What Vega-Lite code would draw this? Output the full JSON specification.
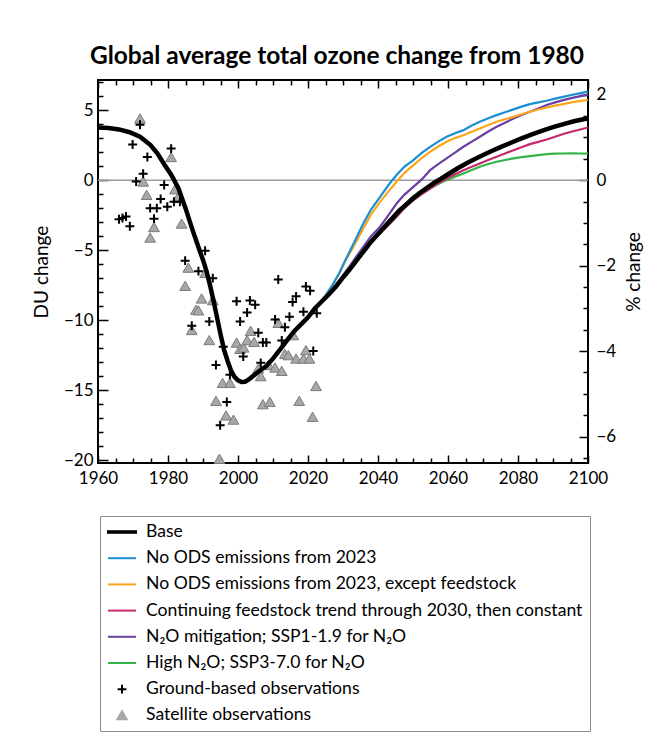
{
  "$schema": "https://vega.github.io/schema/vega-lite/v6.json",
  "width": 490,
  "height": 383,
  "autosize": {"type": "none"},
  "padding": {"left": 98, "top": 80, "right": 69, "bottom": 286},
  "background": "white",
  "config": {
    "font": "Lato",
    "view": {"stroke": "black", "strokeWidth": 2},
    "axis": {"labelFont": "Lato", "titleFont": "Lato", "labelColor": "black", "titleColor": "black", "tickColor": "black", "tickWidth": 1.5, "domain": false, "grid": false, "labelFontSize": 17, "titleFontSize": 19, "titleFontWeight": "normal", "labelOverlap": false}
  },
  "title": {"text": "Global average total ozone change from 1980", "font": "Lato", "fontSize": 24.5, "fontWeight": "bold", "color": "black", "anchor": "middle", "frame": "group", "dx": -6, "dy": 31, "offset": 16, "baseline": "alphabetic"},
  "datasets": {
    "scen": [
      {"series": "Base", "year": 1960, "du": 3.75}, {"series": "Base", "year": 1963, "du": 3.72}, {"series": "Base", "year": 1966, "du": 3.62}, {"series": "Base", "year": 1969, "du": 3.42}, {"series": "Base", "year": 1972, "du": 3.1}, {"series": "Base", "year": 1975, "du": 2.5}, {"series": "Base", "year": 1977, "du": 1.9}, {"series": "Base", "year": 1979, "du": 1.1}, {"series": "Base", "year": 1981, "du": 0.35}, {"series": "Base", "year": 1983, "du": -0.6}, {"series": "Base", "year": 1985, "du": -2.0}, {"series": "Base", "year": 1987, "du": -3.55}, {"series": "Base", "year": 1989, "du": -5.0}, {"series": "Base", "year": 1990, "du": -5.7}, {"series": "Base", "year": 1991, "du": -6.5}, {"series": "Base", "year": 1992, "du": -7.5}, {"series": "Base", "year": 1993, "du": -8.6}, {"series": "Base", "year": 1994, "du": -9.8}, {"series": "Base", "year": 1995, "du": -11.0}, {"series": "Base", "year": 1996, "du": -12.1}, {"series": "Base", "year": 1997, "du": -12.9}, {"series": "Base", "year": 1998, "du": -13.6}, {"series": "Base", "year": 1999, "du": -14.05}, {"series": "Base", "year": 2000, "du": -14.3}, {"series": "Base", "year": 2001, "du": -14.42}, {"series": "Base", "year": 2002, "du": -14.4}, {"series": "Base", "year": 2003, "du": -14.25}, {"series": "Base", "year": 2004, "du": -14.05}, {"series": "Base", "year": 2005, "du": -13.85}, {"series": "Base", "year": 2006, "du": -13.65}, {"series": "Base", "year": 2008, "du": -13.3}, {"series": "Base", "year": 2010, "du": -12.75}, {"series": "Base", "year": 2012, "du": -12.1}, {"series": "Base", "year": 2014, "du": -11.45}, {"series": "Base", "year": 2016, "du": -10.8}, {"series": "Base", "year": 2018, "du": -10.3}, {"series": "Base", "year": 2020, "du": -9.8}, {"series": "Base", "year": 2022, "du": -9.15}, {"series": "Base", "year": 2024, "du": -8.65}, {"series": "Base", "year": 2026, "du": -8.15}, {"series": "Base", "year": 2028, "du": -7.6}, {"series": "Base", "year": 2030, "du": -6.95}, {"series": "Base", "year": 2032, "du": -6.35}, {"series": "Base", "year": 2034, "du": -5.7}, {"series": "Base", "year": 2036, "du": -5.05}, {"series": "Base", "year": 2038, "du": -4.4}, {"series": "Base", "year": 2040, "du": -3.85}, {"series": "Base", "year": 2042, "du": -3.3}, {"series": "Base", "year": 2044, "du": -2.75}, {"series": "Base", "year": 2046, "du": -2.2}, {"series": "Base", "year": 2048, "du": -1.75}, {"series": "Base", "year": 2050, "du": -1.3}, {"series": "Base", "year": 2052, "du": -0.9}, {"series": "Base", "year": 2054, "du": -0.55}, {"series": "Base", "year": 2056, "du": -0.2}, {"series": "Base", "year": 2058, "du": 0.1}, {"series": "Base", "year": 2060, "du": 0.42}, {"series": "Base", "year": 2063, "du": 0.88}, {"series": "Base", "year": 2066, "du": 1.3}, {"series": "Base", "year": 2069, "du": 1.67}, {"series": "Base", "year": 2072, "du": 2.03}, {"series": "Base", "year": 2075, "du": 2.36}, {"series": "Base", "year": 2078, "du": 2.67}, {"series": "Base", "year": 2081, "du": 2.98}, {"series": "Base", "year": 2084, "du": 3.26}, {"series": "Base", "year": 2087, "du": 3.53}, {"series": "Base", "year": 2090, "du": 3.78}, {"series": "Base", "year": 2093, "du": 4.0}, {"series": "Base", "year": 2096, "du": 4.2}, {"series": "Base", "year": 2100, "du": 4.42},

      {"series": "High N₂O; SSP3-7.0 for N₂O", "year": 2023, "du": -8.9}, {"series": "High N₂O; SSP3-7.0 for N₂O", "year": 2026, "du": -8.15}, {"series": "High N₂O; SSP3-7.0 for N₂O", "year": 2030, "du": -6.95}, {"series": "High N₂O; SSP3-7.0 for N₂O", "year": 2034, "du": -5.75}, {"series": "High N₂O; SSP3-7.0 for N₂O", "year": 2038, "du": -4.5}, {"series": "High N₂O; SSP3-7.0 for N₂O", "year": 2040.6, "du": -3.8}, {"series": "High N₂O; SSP3-7.0 for N₂O", "year": 2043, "du": -3.2}, {"series": "High N₂O; SSP3-7.0 for N₂O", "year": 2045.3, "du": -2.62}, {"series": "High N₂O; SSP3-7.0 for N₂O", "year": 2047.5, "du": -2.0}, {"series": "High N₂O; SSP3-7.0 for N₂O", "year": 2050.1, "du": -1.43}, {"series": "High N₂O; SSP3-7.0 for N₂O", "year": 2052.5, "du": -0.98}, {"series": "High N₂O; SSP3-7.0 for N₂O", "year": 2054.9, "du": -0.6}, {"series": "High N₂O; SSP3-7.0 for N₂O", "year": 2057.2, "du": -0.28}, {"series": "High N₂O; SSP3-7.0 for N₂O", "year": 2059.6, "du": 0.0}, {"series": "High N₂O; SSP3-7.0 for N₂O", "year": 2062, "du": 0.25}, {"series": "High N₂O; SSP3-7.0 for N₂O", "year": 2064.4, "du": 0.48}, {"series": "High N₂O; SSP3-7.0 for N₂O", "year": 2066.8, "du": 0.72}, {"series": "High N₂O; SSP3-7.0 for N₂O", "year": 2069.1, "du": 0.95}, {"series": "High N₂O; SSP3-7.0 for N₂O", "year": 2071.5, "du": 1.15}, {"series": "High N₂O; SSP3-7.0 for N₂O", "year": 2073.9, "du": 1.31}, {"series": "High N₂O; SSP3-7.0 for N₂O", "year": 2076.3, "du": 1.44}, {"series": "High N₂O; SSP3-7.0 for N₂O", "year": 2078.7, "du": 1.55}, {"series": "High N₂O; SSP3-7.0 for N₂O", "year": 2081, "du": 1.64}, {"series": "High N₂O; SSP3-7.0 for N₂O", "year": 2083.4, "du": 1.71}, {"series": "High N₂O; SSP3-7.0 for N₂O", "year": 2085.8, "du": 1.78}, {"series": "High N₂O; SSP3-7.0 for N₂O", "year": 2088.2, "du": 1.86}, {"series": "High N₂O; SSP3-7.0 for N₂O", "year": 2090.6, "du": 1.89}, {"series": "High N₂O; SSP3-7.0 for N₂O", "year": 2092.9, "du": 1.9}, {"series": "High N₂O; SSP3-7.0 for N₂O", "year": 2095.2, "du": 1.91}, {"series": "High N₂O; SSP3-7.0 for N₂O", "year": 2097.5, "du": 1.9}, {"series": "High N₂O; SSP3-7.0 for N₂O", "year": 2100, "du": 1.89},

      {"series": "Continuing feedstock trend through 2030, then constant", "year": 2023, "du": -8.9}, {"series": "Continuing feedstock trend through 2030, then constant", "year": 2026, "du": -8.15}, {"series": "Continuing feedstock trend through 2030, then constant", "year": 2030, "du": -6.95}, {"series": "Continuing feedstock trend through 2030, then constant", "year": 2034, "du": -5.75}, {"series": "Continuing feedstock trend through 2030, then constant", "year": 2038, "du": -4.5}, {"series": "Continuing feedstock trend through 2030, then constant", "year": 2040.6, "du": -3.8}, {"series": "Continuing feedstock trend through 2030, then constant", "year": 2043, "du": -3.2}, {"series": "Continuing feedstock trend through 2030, then constant", "year": 2045.3, "du": -2.62}, {"series": "Continuing feedstock trend through 2030, then constant", "year": 2047.5, "du": -2.0}, {"series": "Continuing feedstock trend through 2030, then constant", "year": 2050.1, "du": -1.43}, {"series": "Continuing feedstock trend through 2030, then constant", "year": 2052.5, "du": -1.0}, {"series": "Continuing feedstock trend through 2030, then constant", "year": 2054.9, "du": -0.6}, {"series": "Continuing feedstock trend through 2030, then constant", "year": 2057.2, "du": -0.22}, {"series": "Continuing feedstock trend through 2030, then constant", "year": 2059.6, "du": 0.12}, {"series": "Continuing feedstock trend through 2030, then constant", "year": 2062, "du": 0.42}, {"series": "Continuing feedstock trend through 2030, then constant", "year": 2064.4, "du": 0.71}, {"series": "Continuing feedstock trend through 2030, then constant", "year": 2066.8, "du": 0.95}, {"series": "Continuing feedstock trend through 2030, then constant", "year": 2069.1, "du": 1.19}, {"series": "Continuing feedstock trend through 2030, then constant", "year": 2071.5, "du": 1.43}, {"series": "Continuing feedstock trend through 2030, then constant", "year": 2073.9, "du": 1.67}, {"series": "Continuing feedstock trend through 2030, then constant", "year": 2076.3, "du": 1.9}, {"series": "Continuing feedstock trend through 2030, then constant", "year": 2078.7, "du": 2.14}, {"series": "Continuing feedstock trend through 2030, then constant", "year": 2081, "du": 2.35}, {"series": "Continuing feedstock trend through 2030, then constant", "year": 2083.4, "du": 2.57}, {"series": "Continuing feedstock trend through 2030, then constant", "year": 2085.8, "du": 2.73}, {"series": "Continuing feedstock trend through 2030, then constant", "year": 2088.2, "du": 2.9}, {"series": "Continuing feedstock trend through 2030, then constant", "year": 2090.6, "du": 3.1}, {"series": "Continuing feedstock trend through 2030, then constant", "year": 2092.9, "du": 3.29}, {"series": "Continuing feedstock trend through 2030, then constant", "year": 2095.2, "du": 3.45}, {"series": "Continuing feedstock trend through 2030, then constant", "year": 2097.5, "du": 3.6}, {"series": "Continuing feedstock trend through 2030, then constant", "year": 2100, "du": 3.76},

      {"series": "N₂O mitigation; SSP1-1.9 for N₂O", "year": 2023, "du": -8.9}, {"series": "N₂O mitigation; SSP1-1.9 for N₂O", "year": 2026, "du": -8.1}, {"series": "N₂O mitigation; SSP1-1.9 for N₂O", "year": 2029, "du": -7.15}, {"series": "N₂O mitigation; SSP1-1.9 for N₂O", "year": 2032, "du": -6.1}, {"series": "N₂O mitigation; SSP1-1.9 for N₂O", "year": 2034, "du": -5.4}, {"series": "N₂O mitigation; SSP1-1.9 for N₂O", "year": 2035.8, "du": -4.76}, {"series": "N₂O mitigation; SSP1-1.9 for N₂O", "year": 2038, "du": -4.0}, {"series": "N₂O mitigation; SSP1-1.9 for N₂O", "year": 2040.6, "du": -3.33}, {"series": "N₂O mitigation; SSP1-1.9 for N₂O", "year": 2043, "du": -2.5}, {"series": "N₂O mitigation; SSP1-1.9 for N₂O", "year": 2045.3, "du": -1.67}, {"series": "N₂O mitigation; SSP1-1.9 for N₂O", "year": 2047.5, "du": -1.05}, {"series": "N₂O mitigation; SSP1-1.9 for N₂O", "year": 2050.1, "du": -0.48}, {"series": "N₂O mitigation; SSP1-1.9 for N₂O", "year": 2052.5, "du": 0.05}, {"series": "N₂O mitigation; SSP1-1.9 for N₂O", "year": 2054.9, "du": 0.71}, {"series": "N₂O mitigation; SSP1-1.9 for N₂O", "year": 2057.2, "du": 1.15}, {"series": "N₂O mitigation; SSP1-1.9 for N₂O", "year": 2059.6, "du": 1.55}, {"series": "N₂O mitigation; SSP1-1.9 for N₂O", "year": 2062, "du": 1.97}, {"series": "N₂O mitigation; SSP1-1.9 for N₂O", "year": 2064.4, "du": 2.38}, {"series": "N₂O mitigation; SSP1-1.9 for N₂O", "year": 2066.8, "du": 2.75}, {"series": "N₂O mitigation; SSP1-1.9 for N₂O", "year": 2069.1, "du": 3.1}, {"series": "N₂O mitigation; SSP1-1.9 for N₂O", "year": 2071.5, "du": 3.47}, {"series": "N₂O mitigation; SSP1-1.9 for N₂O", "year": 2073.9, "du": 3.81}, {"series": "N₂O mitigation; SSP1-1.9 for N₂O", "year": 2076.3, "du": 4.1}, {"series": "N₂O mitigation; SSP1-1.9 for N₂O", "year": 2078.7, "du": 4.4}, {"series": "N₂O mitigation; SSP1-1.9 for N₂O", "year": 2081, "du": 4.65}, {"series": "N₂O mitigation; SSP1-1.9 for N₂O", "year": 2083.4, "du": 4.88}, {"series": "N₂O mitigation; SSP1-1.9 for N₂O", "year": 2085.8, "du": 5.12}, {"series": "N₂O mitigation; SSP1-1.9 for N₂O", "year": 2088.2, "du": 5.36}, {"series": "N₂O mitigation; SSP1-1.9 for N₂O", "year": 2090.6, "du": 5.55}, {"series": "N₂O mitigation; SSP1-1.9 for N₂O", "year": 2092.9, "du": 5.71}, {"series": "N₂O mitigation; SSP1-1.9 for N₂O", "year": 2095.2, "du": 5.86}, {"series": "N₂O mitigation; SSP1-1.9 for N₂O", "year": 2097.5, "du": 5.98}, {"series": "N₂O mitigation; SSP1-1.9 for N₂O", "year": 2100, "du": 6.1},

      {"series": "No ODS emissions from 2023, except feedstock", "year": 2023, "du": -8.9}, {"series": "No ODS emissions from 2023, except feedstock", "year": 2025, "du": -8.25}, {"series": "No ODS emissions from 2023, except feedstock", "year": 2027, "du": -7.5}, {"series": "No ODS emissions from 2023, except feedstock", "year": 2029, "du": -6.65}, {"series": "No ODS emissions from 2023, except feedstock", "year": 2030.6, "du": -5.8}, {"series": "No ODS emissions from 2023, except feedstock", "year": 2033, "du": -4.75}, {"series": "No ODS emissions from 2023, except feedstock", "year": 2035.8, "du": -3.45}, {"series": "No ODS emissions from 2023, except feedstock", "year": 2038, "du": -2.45}, {"series": "No ODS emissions from 2023, except feedstock", "year": 2040.6, "du": -1.55}, {"series": "No ODS emissions from 2023, except feedstock", "year": 2043, "du": -0.8}, {"series": "No ODS emissions from 2023, except feedstock", "year": 2045.3, "du": -0.12}, {"series": "No ODS emissions from 2023, except feedstock", "year": 2047.5, "du": 0.5}, {"series": "No ODS emissions from 2023, except feedstock", "year": 2050.1, "du": 1.07}, {"series": "No ODS emissions from 2023, except feedstock", "year": 2052.5, "du": 1.58}, {"series": "No ODS emissions from 2023, except feedstock", "year": 2054.9, "du": 2.02}, {"series": "No ODS emissions from 2023, except feedstock", "year": 2057.2, "du": 2.4}, {"series": "No ODS emissions from 2023, except feedstock", "year": 2059.6, "du": 2.74}, {"series": "No ODS emissions from 2023, except feedstock", "year": 2062, "du": 3.0}, {"series": "No ODS emissions from 2023, except feedstock", "year": 2064.4, "du": 3.21}, {"series": "No ODS emissions from 2023, except feedstock", "year": 2066.8, "du": 3.45}, {"series": "No ODS emissions from 2023, except feedstock", "year": 2069.1, "du": 3.69}, {"series": "No ODS emissions from 2023, except feedstock", "year": 2071.5, "du": 3.94}, {"series": "No ODS emissions from 2023, except feedstock", "year": 2073.9, "du": 4.17}, {"series": "No ODS emissions from 2023, except feedstock", "year": 2076.3, "du": 4.35}, {"series": "No ODS emissions from 2023, except feedstock", "year": 2078.7, "du": 4.52}, {"series": "No ODS emissions from 2023, except feedstock", "year": 2081, "du": 4.7}, {"series": "No ODS emissions from 2023, except feedstock", "year": 2083.4, "du": 4.88}, {"series": "No ODS emissions from 2023, except feedstock", "year": 2085.8, "du": 5.04}, {"series": "No ODS emissions from 2023, except feedstock", "year": 2088.2, "du": 5.19}, {"series": "No ODS emissions from 2023, except feedstock", "year": 2090.6, "du": 5.32}, {"series": "No ODS emissions from 2023, except feedstock", "year": 2092.9, "du": 5.43}, {"series": "No ODS emissions from 2023, except feedstock", "year": 2095.2, "du": 5.55}, {"series": "No ODS emissions from 2023, except feedstock", "year": 2097.5, "du": 5.64}, {"series": "No ODS emissions from 2023, except feedstock", "year": 2100, "du": 5.72},

      {"series": "No ODS emissions from 2023", "year": 2023, "du": -8.9}, {"series": "No ODS emissions from 2023", "year": 2025, "du": -8.25}, {"series": "No ODS emissions from 2023", "year": 2027, "du": -7.5}, {"series": "No ODS emissions from 2023", "year": 2029, "du": -6.6}, {"series": "No ODS emissions from 2023", "year": 2030.6, "du": -5.75}, {"series": "No ODS emissions from 2023", "year": 2033, "du": -4.55}, {"series": "No ODS emissions from 2023", "year": 2035.8, "du": -3.1}, {"series": "No ODS emissions from 2023", "year": 2038, "du": -2.1}, {"series": "No ODS emissions from 2023", "year": 2040.6, "du": -1.19}, {"series": "No ODS emissions from 2023", "year": 2043, "du": -0.35}, {"series": "No ODS emissions from 2023", "year": 2045.3, "du": 0.36}, {"series": "No ODS emissions from 2023", "year": 2047.5, "du": 0.95}, {"series": "No ODS emissions from 2023", "year": 2050.1, "du": 1.43}, {"series": "No ODS emissions from 2023", "year": 2052.5, "du": 1.95}, {"series": "No ODS emissions from 2023", "year": 2054.9, "du": 2.38}, {"series": "No ODS emissions from 2023", "year": 2057.2, "du": 2.75}, {"series": "No ODS emissions from 2023", "year": 2059.6, "du": 3.1}, {"series": "No ODS emissions from 2023", "year": 2062, "du": 3.35}, {"series": "No ODS emissions from 2023", "year": 2064.4, "du": 3.57}, {"series": "No ODS emissions from 2023", "year": 2066.8, "du": 3.9}, {"series": "No ODS emissions from 2023", "year": 2069.1, "du": 4.17}, {"series": "No ODS emissions from 2023", "year": 2071.5, "du": 4.42}, {"series": "No ODS emissions from 2023", "year": 2073.9, "du": 4.64}, {"series": "No ODS emissions from 2023", "year": 2076.3, "du": 4.85}, {"series": "No ODS emissions from 2023", "year": 2078.7, "du": 5.05}, {"series": "No ODS emissions from 2023", "year": 2081, "du": 5.25}, {"series": "No ODS emissions from 2023", "year": 2083.4, "du": 5.43}, {"series": "No ODS emissions from 2023", "year": 2085.8, "du": 5.55}, {"series": "No ODS emissions from 2023", "year": 2088.2, "du": 5.67}, {"series": "No ODS emissions from 2023", "year": 2090.6, "du": 5.82}, {"series": "No ODS emissions from 2023", "year": 2092.9, "du": 5.95}, {"series": "No ODS emissions from 2023", "year": 2095.2, "du": 6.08}, {"series": "No ODS emissions from 2023", "year": 2097.5, "du": 6.2}, {"series": "No ODS emissions from 2023", "year": 2100, "du": 6.32}
    ],
    "obs": [
      {"series": "Satellite observations", "year": 1972.0, "du": 4.4}, {"series": "Satellite observations", "year": 1972.9, "du": -0.1}, {"series": "Satellite observations", "year": 1973.9, "du": -1.05}, {"series": "Satellite observations", "year": 1974.9, "du": -4.1}, {"series": "Satellite observations", "year": 1976.0, "du": -3.35}, {"series": "Satellite observations", "year": 1980.9, "du": 1.65}, {"series": "Satellite observations", "year": 1982.0, "du": -0.65}, {"series": "Satellite observations", "year": 1982.9, "du": -1.2}, {"series": "Satellite observations", "year": 1983.9, "du": -3.1}, {"series": "Satellite observations", "year": 1984.9, "du": -7.55}, {"series": "Satellite observations", "year": 1985.8, "du": -6.25}, {"series": "Satellite observations", "year": 1986.8, "du": -10.7}, {"series": "Satellite observations", "year": 1988.0, "du": -9.25}, {"series": "Satellite observations", "year": 1988.7, "du": -9.3}, {"series": "Satellite observations", "year": 1989.6, "du": -8.45}, {"series": "Satellite observations", "year": 1990.6, "du": -6.62}, {"series": "Satellite observations", "year": 1991.8, "du": -11.42}, {"series": "Satellite observations", "year": 1992.8, "du": -8.57}, {"series": "Satellite observations", "year": 1993.7, "du": -15.76}, {"series": "Satellite observations", "year": 1994.7, "du": -19.9}, {"series": "Satellite observations", "year": 1995.6, "du": -14.48}, {"series": "Satellite observations", "year": 1996.6, "du": -16.8}, {"series": "Satellite observations", "year": 1997.7, "du": -14.48}, {"series": "Satellite observations", "year": 1998.7, "du": -17.1}, {"series": "Satellite observations", "year": 1999.6, "du": -11.6}, {"series": "Satellite observations", "year": 2000.6, "du": -12.05}, {"series": "Satellite observations", "year": 2001.6, "du": -11.95}, {"series": "Satellite observations", "year": 2002.6, "du": -11.42}, {"series": "Satellite observations", "year": 2003.6, "du": -10.76}, {"series": "Satellite observations", "year": 2004.6, "du": -11.55}, {"series": "Satellite observations", "year": 2005.8, "du": -13.45}, {"series": "Satellite observations", "year": 2006.5, "du": -14.0}, {"series": "Satellite observations", "year": 2007.1, "du": -16.0}, {"series": "Satellite observations", "year": 2008.7, "du": -13.2}, {"series": "Satellite observations", "year": 2009.1, "du": -15.83}, {"series": "Satellite observations", "year": 2010.6, "du": -13.38}, {"series": "Satellite observations", "year": 2011.5, "du": -10.19}, {"series": "Satellite observations", "year": 2012.5, "du": -13.62}, {"series": "Satellite observations", "year": 2013.4, "du": -12.4}, {"series": "Satellite observations", "year": 2014.4, "du": -12.5}, {"series": "Satellite observations", "year": 2015.8, "du": -11.07}, {"series": "Satellite observations", "year": 2016.6, "du": -12.74}, {"series": "Satellite observations", "year": 2017.5, "du": -15.76}, {"series": "Satellite observations", "year": 2018.7, "du": -12.74}, {"series": "Satellite observations", "year": 2019.4, "du": -12.14}, {"series": "Satellite observations", "year": 2020.4, "du": -12.74}, {"series": "Satellite observations", "year": 2021.3, "du": -16.9}, {"series": "Satellite observations", "year": 2022.3, "du": -14.7},
      {"series": "Ground-based observations", "year": 1966.0, "du": -2.8}, {"series": "Ground-based observations", "year": 1967.0, "du": -2.7}, {"series": "Ground-based observations", "year": 1968.0, "du": -2.6}, {"series": "Ground-based observations", "year": 1969.1, "du": -3.3}, {"series": "Ground-based observations", "year": 1969.9, "du": 2.55}, {"series": "Ground-based observations", "year": 1970.9, "du": -0.1}, {"series": "Ground-based observations", "year": 1972.0, "du": 3.95}, {"series": "Ground-based observations", "year": 1972.9, "du": 0.45}, {"series": "Ground-based observations", "year": 1974.1, "du": 1.65}, {"series": "Ground-based observations", "year": 1974.9, "du": -2.0}, {"series": "Ground-based observations", "year": 1976.0, "du": -2.75}, {"series": "Ground-based observations", "year": 1976.8, "du": -2.0}, {"series": "Ground-based observations", "year": 1977.9, "du": -1.35}, {"series": "Ground-based observations", "year": 1978.9, "du": -0.35}, {"series": "Ground-based observations", "year": 1979.8, "du": -1.9}, {"series": "Ground-based observations", "year": 1980.9, "du": 2.25}, {"series": "Ground-based observations", "year": 1981.7, "du": -1.55}, {"series": "Ground-based observations", "year": 1983.4, "du": -1.55}, {"series": "Ground-based observations", "year": 1984.9, "du": -5.75}, {"series": "Ground-based observations", "year": 1986.8, "du": -10.4}, {"series": "Ground-based observations", "year": 1988.7, "du": -6.5}, {"series": "Ground-based observations", "year": 1990.6, "du": -5.05}, {"series": "Ground-based observations", "year": 1991.8, "du": -10.1}, {"series": "Ground-based observations", "year": 1992.8, "du": -7.0}, {"series": "Ground-based observations", "year": 1993.7, "du": -13.2}, {"series": "Ground-based observations", "year": 1994.9, "du": -17.5}, {"series": "Ground-based observations", "year": 1995.8, "du": -11.9}, {"series": "Ground-based observations", "year": 1996.8, "du": -15.85}, {"series": "Ground-based observations", "year": 1997.7, "du": -13.9}, {"series": "Ground-based observations", "year": 1999.6, "du": -8.65}, {"series": "Ground-based observations", "year": 2000.6, "du": -10.1}, {"series": "Ground-based observations", "year": 2001.5, "du": -12.6}, {"series": "Ground-based observations", "year": 2002.6, "du": -9.45}, {"series": "Ground-based observations", "year": 2003.4, "du": -8.6}, {"series": "Ground-based observations", "year": 2004.9, "du": -8.9}, {"series": "Ground-based observations", "year": 2005.8, "du": -10.9}, {"series": "Ground-based observations", "year": 2006.5, "du": -13.05}, {"series": "Ground-based observations", "year": 2007.1, "du": -11.6}, {"series": "Ground-based observations", "year": 2008.1, "du": -11.6}, {"series": "Ground-based observations", "year": 2010.6, "du": -9.95}, {"series": "Ground-based observations", "year": 2011.5, "du": -7.1}, {"series": "Ground-based observations", "year": 2012.5, "du": -11.45}, {"series": "Ground-based observations", "year": 2013.4, "du": -10.5}, {"series": "Ground-based observations", "year": 2014.7, "du": -9.75}, {"series": "Ground-based observations", "year": 2015.6, "du": -8.7}, {"series": "Ground-based observations", "year": 2016.6, "du": -8.3}, {"series": "Ground-based observations", "year": 2018.7, "du": -9.4}, {"series": "Ground-based observations", "year": 2019.4, "du": -7.6}, {"series": "Ground-based observations", "year": 2020.6, "du": -7.9}, {"series": "Ground-based observations", "year": 2021.5, "du": -12.2}, {"series": "Ground-based observations", "year": 2022.5, "du": -9.5}
    ]
  },
  "resolve": {"scale": {"y": "independent"}, "axis": {"x": "independent", "y": "independent"}},
  "layer": [
    {
      "data": {"values": [{"pct": 0}]},
      "mark": {"type": "rule", "color": "#9b9b9b", "strokeWidth": 1.5},
      "encoding": {
        "y": {"field": "pct", "type": "quantitative", "scale": {"domain": [-6.62, 2.345], "nice": false, "zero": false},
          "axis": {"orient": "right", "title": "% change", "titleAngle": 270, "titleBaseline": "top", "titlePadding": 9, "values": [-6.5, -6, -5.5, -5, -4.5, -4, -3.5, -3, -2.5, -2, -1.5, -1, -0.5, 0, 0.5, 1, 1.5, 2], "labelExpr": "datum.value % 2 === 0 ? format(datum.value, '.0f') : ''", "tickSize": {"condition": {"test": "datum.value % 2 === 0", "value": -9}, "value": -5}, "labelPadding": 17}}
      }
    },
    {
      "data": {"name": "obs"},
      "transform": [{"filter": "datum.series === 'Satellite observations'"}],
      "mark": {"type": "point", "shape": "triangle-up", "size": 115, "filled": true, "opacity": 1, "stroke": "#7a7a7a", "strokeWidth": 1},
      "encoding": {
        "x": {"field": "year", "type": "quantitative", "scale": {"domain": [1960, 2100], "nice": false, "zero": false},
          "axis": {"orient": "top", "title": null, "labels": false, "values": [1960, 1965, 1970, 1975, 1980, 1985, 1990, 1995, 2000, 2005, 2010, 2015, 2020, 2025, 2030, 2035, 2040, 2045, 2050, 2055, 2060, 2065, 2070, 2075, 2080, 2085, 2090, 2095, 2100], "tickSize": {"condition": {"test": "datum.value % 20 === 0", "value": -8}, "value": -5}}},
        "y": {"field": "du", "type": "quantitative", "scale": {"domain": [-20.2, 7.15], "nice": false, "zero": false}, "axis": null},
        "color": {"field": "series", "type": "nominal",
          "scale": {"domain": ["Base", "No ODS emissions from 2023", "No ODS emissions from 2023, except feedstock", "Continuing feedstock trend through 2030, then constant", "N₂O mitigation; SSP1-1.9 for N₂O", "High N₂O; SSP3-7.0 for N₂O", "Ground-based observations", "Satellite observations"], "range": ["#000000", "#1b8fd2", "#f9a61c", "#c42a6c", "#6b3fa2", "#35b34a", "#000000", "#a8a8a8"]}}
      }
    },
    {
      "data": {"name": "obs"},
      "transform": [{"filter": "datum.series === 'Ground-based observations'"}],
      "mark": {"type": "point", "shape": "M-1,0H1M0,-1V1", "size": 80, "filled": false, "opacity": 1, "strokeWidth": 2},
      "encoding": {
        "x": {"field": "year", "type": "quantitative", "scale": {"domain": [1960, 2100], "nice": false, "zero": false}, "axis": null},
        "y": {"field": "du", "type": "quantitative", "scale": {"domain": [-20.2, 7.15], "nice": false, "zero": false}, "axis": null},
        "color": {"field": "series", "type": "nominal",
          "scale": {"domain": ["Base", "No ODS emissions from 2023", "No ODS emissions from 2023, except feedstock", "Continuing feedstock trend through 2030, then constant", "N₂O mitigation; SSP1-1.9 for N₂O", "High N₂O; SSP3-7.0 for N₂O", "Ground-based observations", "Satellite observations"], "range": ["#000000", "#1b8fd2", "#f9a61c", "#c42a6c", "#6b3fa2", "#35b34a", "#000000", "#a8a8a8"]}}
      }
    },
    {
      "data": {"name": "scen"},
      "transform": [{"filter": "datum.series !== 'Base'"}],
      "mark": {"type": "line", "strokeWidth": 2.2},
      "encoding": {
        "x": {"field": "year", "type": "quantitative", "scale": {"domain": [1960, 2100], "nice": false, "zero": false}, "axis": null},
        "y": {"field": "du", "type": "quantitative", "scale": {"domain": [-20.2, 7.15], "nice": false, "zero": false}, "axis": null},
        "color": {"field": "series", "type": "nominal",
          "scale": {"domain": ["Base", "No ODS emissions from 2023", "No ODS emissions from 2023, except feedstock", "Continuing feedstock trend through 2030, then constant", "N₂O mitigation; SSP1-1.9 for N₂O", "High N₂O; SSP3-7.0 for N₂O", "Ground-based observations", "Satellite observations"], "range": ["#000000", "#1b8fd2", "#f9a61c", "#c42a6c", "#6b3fa2", "#35b34a", "#000000", "#a8a8a8"]}}
      }
    },
    {
      "data": {"name": "scen"},
      "transform": [{"filter": "datum.series === 'Base'"}],
      "mark": {"type": "line", "strokeWidth": 4.5},
      "encoding": {
        "x": {"field": "year", "type": "quantitative", "scale": {"domain": [1960, 2100], "nice": false, "zero": false},
          "axis": {"orient": "bottom", "title": null, "format": "d", "labelFlush": false, "values": [1960, 1965, 1970, 1975, 1980, 1985, 1990, 1995, 2000, 2005, 2010, 2015, 2020, 2025, 2030, 2035, 2040, 2045, 2050, 2055, 2060, 2065, 2070, 2075, 2080, 2085, 2090, 2095, 2100], "labelExpr": "datum.value % 20 === 0 ? datum.label : ''", "tickSize": {"condition": {"test": "datum.value % 20 === 0", "value": -8}, "value": -5}, "labelPadding": 15}},
        "y": {"field": "du", "type": "quantitative", "scale": {"domain": [-20.2, 7.15], "nice": false, "zero": false},
          "axis": {"orient": "left", "title": "DU change", "titlePadding": 12, "values": [-20, -19, -18, -17, -16, -15, -14, -13, -12, -11, -10, -9, -8, -7, -6, -5, -4, -3, -2, -1, 0, 1, 2, 3, 4, 5, 6, 7], "labelExpr": "datum.value % 5 === 0 ? datum.label : ''", "tickSize": {"condition": {"test": "datum.value % 5 === 0", "value": -10}, "value": -5}, "labelPadding": 15}},
        "color": {"field": "series", "type": "nominal",
          "scale": {"domain": ["Base", "No ODS emissions from 2023", "No ODS emissions from 2023, except feedstock", "Continuing feedstock trend through 2030, then constant", "N₂O mitigation; SSP1-1.9 for N₂O", "High N₂O; SSP3-7.0 for N₂O", "Ground-based observations", "Satellite observations"], "range": ["#000000", "#1b8fd2", "#f9a61c", "#c42a6c", "#6b3fa2", "#35b34a", "#000000", "#a8a8a8"]},
          "legend": {
            "orient": "none", "legendX": 2, "legendY": 436, "title": null, "direction": "vertical",
            "strokeColor": "#8c8c8c", "fillColor": "white", "padding": 7, "cornerRadius": 0,
            "labelFont": "Lato", "labelFontSize": 17.6, "labelColor": "black", "labelLimit": 600, "labelOffset": 15,
            "symbolSize": 256, "symbolOffset": 6, "symbolStrokeWidth": 2, "rowPadding": 8.2,
            "encode": {
              "symbols": {
                "update": {
                  "shape": [
                    {"test": "datum.value === 'Ground-based observations'", "value": "M-0.55,0H0.55M0,-0.55V0.55"},
                    {"test": "datum.value === 'Satellite observations'", "value": "M0,-0.52L0.58,0.48L-0.58,0.48Z"},
                    {"test": "datum.value === 'Base'", "value": "M-1.75,-0.1H1.75V0.1H-1.75Z"},
                    {"value": "M-1.75,0H1.75"}
                  ],
                  "size": {"value": 256},
                  "strokeWidth": {"value": 2},
                  "fill": [
                    {"test": "datum.value === 'Satellite observations'", "value": "#a8a8a8"},
                    {"test": "datum.value === 'Base'", "value": "#000000"},
                    {"value": "transparent"}
                  ],
                  "stroke": [
                    {"test": "datum.value === 'Satellite observations'", "value": "#8a8a8a"},
                    {"scale": "color", "field": "value"}
                  ],
                  "opacity": {"value": 1}
                }
              }
            }
          }
        }
      }
    }
  ]
}
